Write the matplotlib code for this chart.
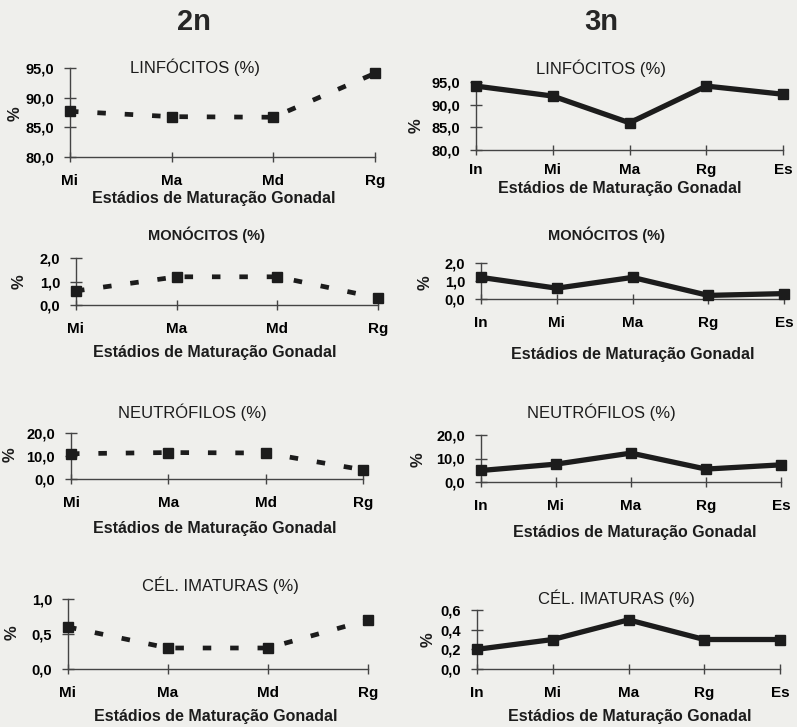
import matplotlib
matplotlib.use("Agg")
import matplotlib.pyplot as plt

plt.rcParams['font.family'] = ['Liberation Sans', 'DejaVu Sans']

W, H = 797, 727
BG = '#efefec'
INK = '#1c1c1c'

cats_2n = ['Mi', 'Ma', 'Md', 'Rg']
cats_3n = ['In', 'Mi', 'Ma', 'Rg', 'Es']

linf_2n = [87.7, 86.8, 86.7, 94.1]
mono_2n = [0.6, 1.2, 1.2, 0.3]
neut_2n = [11.0, 11.5, 11.3, 4.0]
imat_2n = [0.6, 0.3, 0.3, 0.7]

linf_3n = [94.1, 91.9, 86.0, 94.1, 92.3]
mono_3n = [1.2, 0.6, 1.2, 0.2, 0.3]
neut_3n = [4.9, 7.6, 12.3, 5.5, 7.3]
imat_3n = [0.2, 0.3, 0.5, 0.3, 0.3]

ticks_linf = [80, 85, 90, 95]
ticks_mono = [0, 1, 2]
ticks_neut = [0, 10, 20]
ticks_imat_2n = [0, 0.5, 1.0]
ticks_imat_3n = [0, 0.2, 0.4, 0.6]

xlabel = 'Estádios de Maturação Gonadal'

fig = plt.figure(figsize=(W / 100, H / 100), dpi=100, facecolor=BG)


def panel(box, cats, vals, yticks, dashed, title, title_pos, title_bold,
          pct_pos, xlab_pos, xpad=9):
    x0, x1, yt, yb = box
    ax = fig.add_axes([x0 / W, 1 - yb / H, (x1 - x0) / W, (yb - yt) / H])
    ax.set_facecolor('none')
    xs = list(range(len(cats)))
    if dashed:
        ax.plot(xs, vals, color=INK, lw=3.4, ls=(0, (1.8, 4.0)),
                marker='s', ms=7.5, clip_on=False, zorder=3)
    else:
        ax.plot(xs, vals, color=INK, lw=3.8, solid_joinstyle='miter',
                marker='s', ms=7.5, clip_on=False, zorder=3)
    ax.set_xlim(0, len(cats) - 1)
    ax.set_ylim(yticks[0], yticks[-1])
    ax.set_xticks(xs)
    ax.set_xticklabels(cats, fontsize=11, fontweight='bold')
    ax.set_yticks(yticks)
    ax.set_yticklabels(['{:.1f}'.format(t).replace('.', ',') for t in yticks],
                       fontsize=10.5, fontweight='bold')
    for s in ['top', 'right']:
        ax.spines[s].set_visible(False)
    for s in ['left', 'bottom']:
        ax.spines[s].set_color('#444444')
        ax.spines[s].set_linewidth(1.0)
    ax.tick_params(axis='x', direction='inout', length=7, width=1.0,
                   color='#444444', pad=xpad)
    ax.tick_params(axis='y', direction='inout', length=9, width=1.0,
                   color='#444444', pad=7)
    fig.text(title_pos[0] / W, 1 - title_pos[1] / H, title, ha='center',
             va='center', fontsize=10.5 if title_bold else 12,
             fontweight='bold' if title_bold else 'normal', color=INK)
    fig.text(pct_pos[0] / W, 1 - pct_pos[1] / H, '%', ha='center',
             va='center', rotation=90, fontsize=12, fontweight='bold',
             color=INK)
    fig.text(xlab_pos[0] / W, 1 - xlab_pos[1] / H, xlabel, ha='center',
             va='center', fontsize=11.5, fontweight='bold', color=INK)
    return ax


fig.text(194 / W, 1 - 22 / H, '2n', ha='center', va='center',
         fontsize=21, fontweight='bold', color='#262626')
fig.text(601 / W, 1 - 22 / H, '3n', ha='center', va='center',
         fontsize=21, fontweight='bold', color='#262626')

# coluna 2n
panel((70, 375, 68, 157), cats_2n, linf_2n, ticks_linf, True,
      'LINFÓCITOS (%)', (195, 67), False, (15, 114), (214, 198))
panel((76, 378, 258, 305), cats_2n, mono_2n, ticks_mono, True,
      'MONÓCITOS (%)', (207, 235), True, (19, 282), (215, 352))
panel((71, 363, 433, 479), cats_2n, neut_2n, ticks_neut, True,
      'NEUTRÓFILOS (%)', (192, 412), False, (10, 455), (215, 528))
panel((68, 368, 599, 669), cats_2n, imat_2n, ticks_imat_2n, True,
      'CÉL. IMATURAS (%)', (220, 585), False, (12, 633), (216, 717))

# coluna 3n
panel((476, 783, 82, 150), cats_3n, linf_3n, ticks_linf, False,
      'LINFÓCITOS (%)', (601, 68), False, (416, 126), (620, 189), xpad=6)
panel((481, 784, 263, 299), cats_3n, mono_3n, ticks_mono, False,
      'MONÓCITOS (%)', (607, 235), True, (425, 283), (633, 355))
panel((481, 781, 435, 482), cats_3n, neut_3n, ticks_neut, False,
      'NEUTRÓFILOS (%)', (601, 412), False, (418, 460), (635, 533))
panel((477, 780, 610, 669), cats_3n, imat_3n, ticks_imat_3n, False,
      'CÉL. IMATURAS (%)', (616, 598), False, (428, 640), (630, 717))

fig.savefig('out.png', dpi=100, facecolor=BG)
